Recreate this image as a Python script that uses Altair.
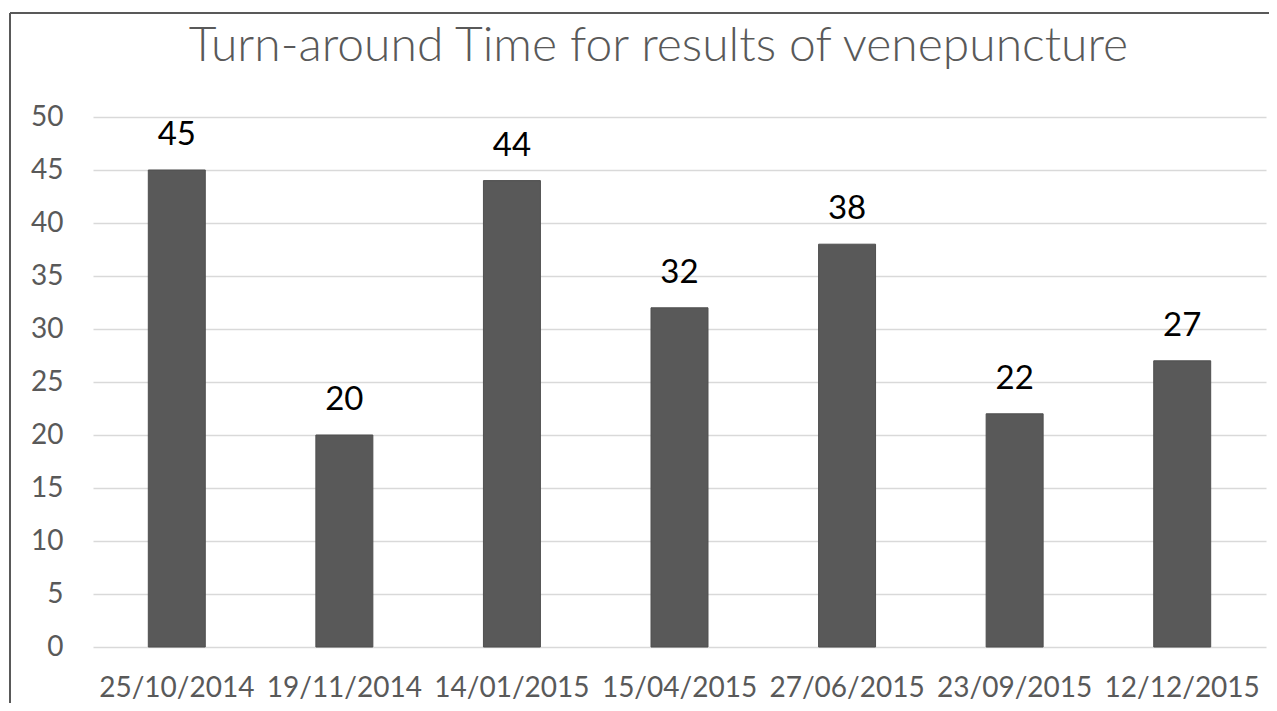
import altair as alt
import pandas as pd

dates = ["25/10/2014", "19/11/2014", "14/01/2015", "15/04/2015",
         "27/06/2015", "23/09/2015", "12/12/2015"]
values = [45, 20, 44, 32, 38, 22, 27]
y_ticks = [0, 5, 10, 15, 20, 25, 30, 35, 40, 45, 50]
title_text = "Turn-around Time for results of venepuncture"

df = pd.DataFrame({"date": dates, "value": values})

FONT = "Lato"
GRAY = "#595959"

x = alt.X("date:N", sort=dates, title=None,
          scale=alt.Scale(paddingInner=0.66, paddingOuter=0.33),
          axis=alt.Axis(labelAngle=0, labelFont=FONT, labelFontSize=28,
                        labelColor=GRAY, domain=False, ticks=False, tickSize=0,
                        labelPadding=27, grid=False))
y = alt.Y("value:Q", title=None,
          scale=alt.Scale(domain=[0, 50], nice=False),
          axis=alt.Axis(values=y_ticks, labelFont=FONT, labelFontSize=28,
                        labelColor=GRAY, domain=False, ticks=False, tickSize=0,
                        labelPadding=30, gridColor="#d9d9d9", gridWidth=1.5))

base = alt.Chart(df)

bars = base.mark_bar(color=GRAY, stroke="#4f4f4f", strokeWidth=1).encode(x=x, y=y)

labels = base.mark_text(font=FONT, fontSize=33, color="#000000",
                        baseline="alphabetic", dy=-25).encode(
    x=alt.X("date:N", sort=dates), y="value:Q", text="value:Q")

single = alt.Chart(alt.Data(values=[{"t": title_text}]))
title_mark = single.mark_text(font=FONT, fontSize=48, fontWeight=300, color=GRAY,
                              align="center", baseline="alphabetic").encode(
    x=alt.value(565.5), y=alt.value(-56), text="t:N")

left_line = single.mark_rule(color="#595959", strokeWidth=2).encode(
    x=alt.value(-83), y=alt.value(-104), y2=alt.value(600))
top_line = single.mark_rule(color="#595959", strokeWidth=2).encode(
    x=alt.value(-83), x2=alt.value(1200), y=alt.value(-104))

chart = alt.layer(bars, labels, title_mark, left_line, top_line).properties(
    width=1173, height=530,
    autosize=alt.AutoSizeParams(type="none"),
    padding={"left": 85, "top": 109, "right": 3, "bottom": 56},
).configure_view(stroke=None)

chart.save("out.html", embed_options={"renderer": "svg", "actions": False})
